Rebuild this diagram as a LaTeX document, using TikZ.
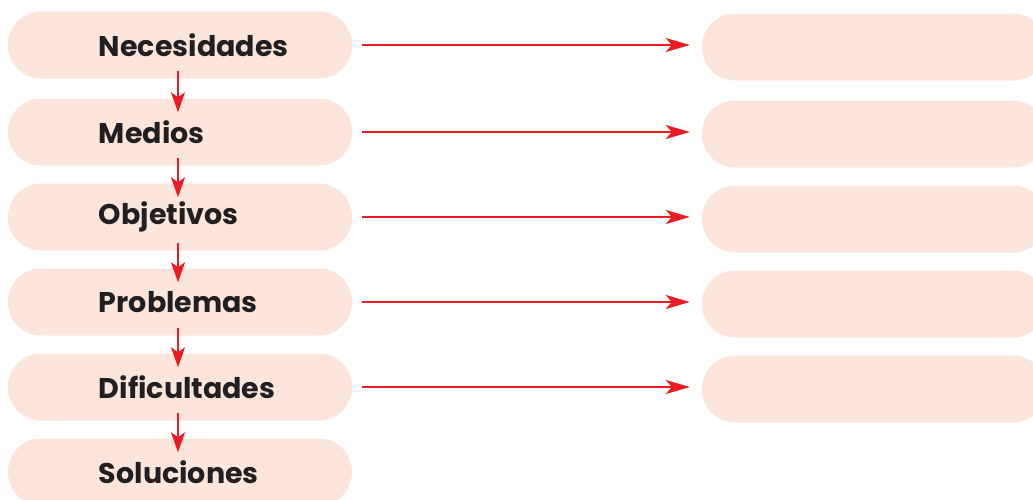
\documentclass[tikz,border=0pt]{standalone}
\usepackage{fontspec}
\setmainfont{Poppins}
\definecolor{boxfill}{HTML}{FCE6DC}
\definecolor{arrred}{HTML}{ED1C24}
\definecolor{txt}{HTML}{231F20}
\usetikzlibrary{arrows.meta}
\begin{document}
\begin{tikzpicture}[x=1pt,y=-1pt,
  lbox/.style={rectangle, fill=boxfill, rounded corners=33pt, minimum width=344pt, minimum height=67pt,
    text width=344pt, align=left, inner xsep=0pt, inner ysep=0pt, text=txt,
    font=\fontsize{28.5}{32}\selectfont\bfseries},
  rbox/.style={rectangle, fill=boxfill, rounded corners=33pt, minimum width=344pt, minimum height=67pt, inner sep=0pt},
  varrow/.style={draw=arrred, line width=2pt, -{Stealth[length=20pt,width=14pt,inset=5pt]}, shorten <=-8pt, shorten >=-14pt},
  harrow/.style={draw=arrred, line width=2.2pt, -{Stealth[length=24pt,width=14pt,inset=6pt]}, shorten <=10pt, shorten >=12pt}
]
\useasboundingbox (0,0) rectangle (1033,499);
\begin{scope}
\clip (0,0) rectangle (1033,499);
\node[lbox] (n1) at (180,45) {\hspace*{91pt}Necesidades};
\node[lbox] (n2) at (180,132) {\hspace*{91pt}Medios};
\node[lbox] (n3) at (180,217) {\hspace*{91pt}Objetivos};
\node[lbox] (n4) at (180,302) {\hspace*{91pt}Problemas};
\node[lbox] (n5) at (180,387) {\hspace*{91pt}Dificultades};
\node[lbox] (n6) at (180,472) {\hspace*{91pt}Soluciones};
\node[rbox] (r1) at (874,47) {};
\node[rbox] (r2) at (874,134) {};
\node[rbox] (r3) at (874,219) {};
\node[rbox] (r4) at (874,304) {};
\node[rbox] (r5) at (874,389) {};
\end{scope}
\foreach \a/\b in {n1/n2,n2/n3,n3/n4,n4/n5,n5/n6}
  \draw[varrow] ([xshift=-2pt]\a.south) -- ([xshift=-2pt]\b.north);
\foreach \a/\b in {n1/r1,n2/r2,n3/r3,n4/r4,n5/r5}
  \draw[harrow] (\a.east) -- (\a.east -| \b.west);
\end{tikzpicture}
\end{document}
